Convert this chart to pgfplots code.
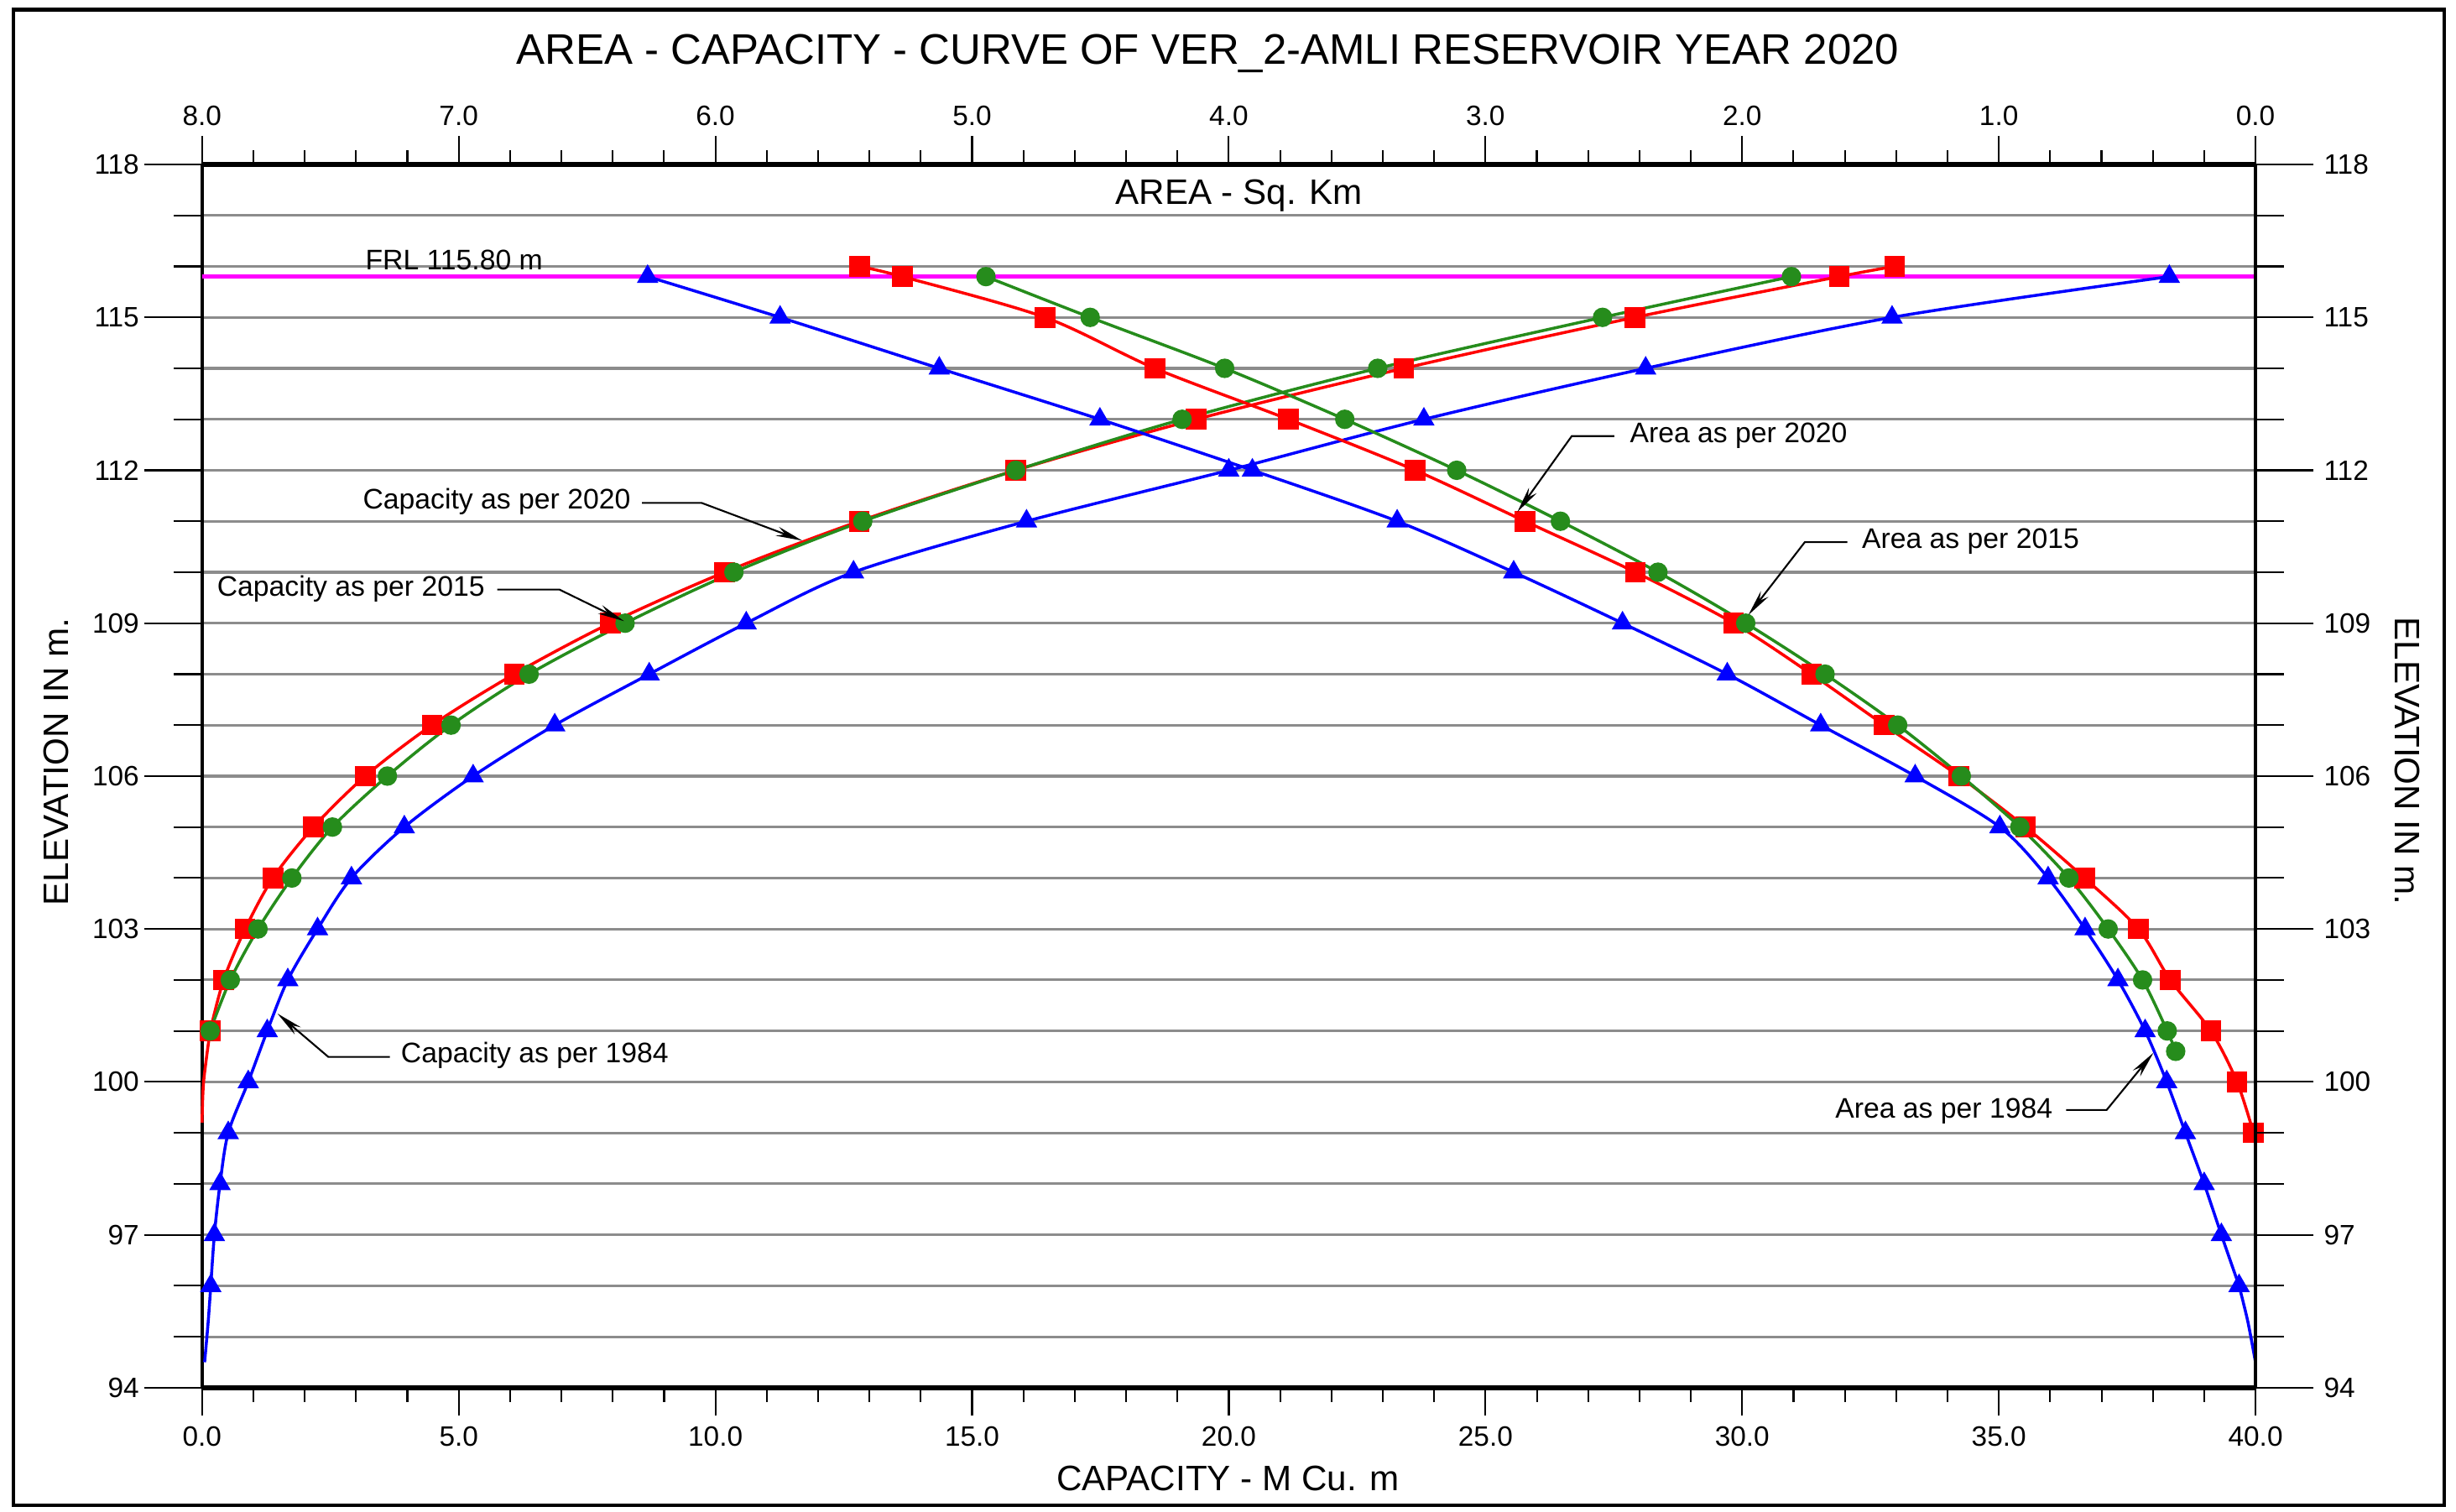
\documentclass[border=0pt]{standalone}
\usepackage{fontspec}
\setmainfont{Liberation Sans}
\usepackage{pgfplots}
\pgfplotsset{compat=1.18}
\usetikzlibrary{arrows.meta}

\definecolor{cred}{RGB}{255,0,0}
\definecolor{cgreen}{RGB}{38,140,28}
\definecolor{cblue}{RGB}{0,0,255}
\definecolor{cmag}{RGB}{255,0,255}
\definecolor{cgrid}{RGB}{140,140,140}

\newcommand\tickfont{\fontsize{9.5}{11}\selectfont}
\newcommand\annfont{\fontsize{9.6}{11}\selectfont}

\tikzset{
  leader/.style={black, line width=0.6pt, -{Stealth[length=9pt, width=3.2pt]}},
  ann/.style={font=\annfont, inner sep=0pt, anchor=center},
}
\pgfplotsset{
  base/.style={scale only axis, width=24.482cm, height=14.584cm,
    at={(0,0)}, anchor=south west, ymin=94, ymax=118, clip=false,
    /pgf/number format/assume math mode=true,
    tick style={black, line width=0.6pt}, axis line style={-},
    every tick label/.append style={font=\tickfont}},
  redp/.style={cred, line width=1pt, smooth, tension=0.5, mark=square*, mark size=3.0pt, mark options={solid, fill=cred, draw=cred}},
  greenp/.style={cgreen, line width=1pt, smooth, tension=0.5, mark=*, mark size=2.8pt, mark options={solid, fill=cgreen, draw=cgreen}},
  bluep/.style={cblue, line width=1pt, smooth, tension=0.5, mark=triangle*, mark size=3.2pt, mark options={solid, fill=cblue, draw=cblue}},
}

\begin{document}
\begin{tikzpicture}
\useasboundingbox (-2.409,-1.475) rectangle (26.872,16.545);

% grid + left elevation axis
\begin{axis}[base, xmin=0, xmax=40, axis x line=none, xtick=\empty,
  axis y line*=left, y axis line style={line width=1pt},
  ytick={94,97,...,118},
  minor ytick={95,96,98,99,101,102,104,105,107,108,110,111,113,114,116,117},
  tick align=outside, major tick length=0.691cm, minor tick length=0.336cm,
  ymajorgrids, yminorgrids,
  major grid style={cgrid, line width=0.9pt},
  minor grid style={cgrid, line width=0.9pt},
  yticklabel style={inner sep=1.5pt}]
\addplot[cmag, line width=1.3pt] coordinates {(0,115.8) (40,115.8)};
\end{axis}

% capacity (bottom axis)
\begin{axis}[base, xmin=0, xmax=40, axis y line=none, ytick=\empty,
  axis x line*=bottom, x axis line style={line width=1.6pt},
  xtick={0,5,...,40}, minor x tick num=4,
  tick align=outside, major tick length=0.336cm, minor tick length=0.168cm,
  xticklabel style={/pgf/number format/.cd, fixed, fixed zerofill, precision=1}]
% Capacity as per 1984
\addplot[cblue, line width=1pt, smooth] coordinates {(0.05,94.5) (0.12,95.3) (0.17,96)};
\addplot[bluep] coordinates {
(0.17,96) (0.24,97) (0.35,98) (0.51,99) (0.90,100) (1.27,101) (1.67,102)
(2.25,103) (2.91,104) (3.94,105) (5.28,106) (6.87,107) (8.71,108) (10.60,109)
(12.69,110) (16.06,111) (20.00,112) (23.80,113) (28.12,114) (32.92,115) (38.32,115.8)};
% Capacity as per 2020
\addplot[cred, line width=1pt, smooth] coordinates {(0,99.2) (0.03,100) (0.157,101)};
\addplot[redp] coordinates {
(0.157,101) (0.42,102) (0.84,103) (1.38,104) (2.17,105) (3.18,106) (4.48,107)
(6.08,108) (7.95,109) (10.18,110) (12.80,111) (15.85,112) (19.36,113)
(23.41,114) (27.91,115) (31.89,115.8) (32.97,116)};
% Capacity as per 2015
\addplot[greenp] coordinates {
(0.157,101) (0.55,102) (1.09,103) (1.75,104) (2.54,105) (3.61,106) (4.85,107)
(6.37,108) (8.24,109) (10.36,110) (12.87,111) (15.85,112) (19.09,113)
(22.90,114) (27.28,115) (30.96,115.8)};
\end{axis}

% area (top axis, reversed)
\begin{axis}[base, xmin=0, xmax=8, x dir=reverse, axis y line=none, ytick=\empty,
  axis x line*=top, x axis line style={line width=1.6pt},
  xtick={0,1,...,8}, minor x tick num=4,
  tick align=outside, major tick length=0.336cm, minor tick length=0.168cm,
  xticklabel style={/pgf/number format/.cd, fixed, fixed zerofill, precision=1}]
% Area as per 1984
\addplot[cblue, line width=1pt, smooth] coordinates {(0.0,94.5) (0.03,95.3) (0.064,96)};
\addplot[bluep] coordinates {
(0.064,96) (0.133,97) (0.20,98) (0.273,99) (0.346,100) (0.43,101) (0.536,102)
(0.664,103) (0.808,104) (0.996,105) (1.326,106) (1.694,107) (2.058,108)
(2.466,109) (2.89,110) (3.344,111) (3.908,112) (4.502,113) (5.128,114)
(5.748,115) (6.264,115.8)};
% Area as per 2020
\addplot[redp] coordinates {
(0.008,99) (0.072,100) (0.174,101) (0.332,102) (0.456,103) (0.666,104)
(0.896,105) (1.156,106) (1.446,107) (1.73,108) (2.033,109) (2.416,110)
(2.846,111) (3.274,112) (3.768,113) (4.288,114) (4.716,115) (5.272,115.8)
(5.438,116)};
% Area as per 2015
\addplot[greenp] coordinates {
(0.311,100.6) (0.344,101) (0.44,102) (0.574,103) (0.727,104) (0.918,105)
(1.146,106) (1.394,107) (1.677,108) (1.986,109) (2.328,110) (2.708,111)
(3.112,112) (3.548,113) (4.016,114) (4.54,115) (4.946,115.8)};
\end{axis}

% right elevation axis + annotations
\begin{axis}[base, xmin=0, xmax=40, axis x line=none, xtick=\empty,
  axis y line*=right, y axis line style={line width=1pt},
  ytick={94,97,...,118},
  minor ytick={95,96,98,99,101,102,104,105,107,108,110,111,113,114,116,117},
  tick align=outside, major tick length=0.691cm, minor tick length=0.336cm]
\node[font=\fontsize{12}{14}\selectfont, inner sep=0pt] at (axis cs:20.2,117.39) {AREA - Sq. Km};
\node[ann] at (axis cs:4.91,116.12) {FRL 115.80 m};
\node[ann] at (axis cs:5.74,111.39) {Capacity as per 2020};
\draw[leader] (axis cs:8.57,111.36) -- (axis cs:9.73,111.36) -- (axis cs:11.69,110.62);
\node[ann] at (axis cs:2.90,109.67) {Capacity as per 2015};
\draw[leader] (axis cs:5.75,109.66) -- (axis cs:6.96,109.66) -- (axis cs:8.22,109.04);
\node[ann] at (axis cs:6.48,100.52) {Capacity as per 1984};
\draw[leader] (axis cs:3.66,100.49) -- (axis cs:2.46,100.49) -- (axis cs:1.47,101.34);
\node[ann] at (axis cs:29.93,112.68) {Area as per 2020};
\draw[leader] (axis cs:27.51,112.67) -- (axis cs:26.68,112.67) -- (axis cs:25.62,111.18);
\node[ann] at (axis cs:34.45,110.61) {Area as per 2015};
\draw[leader] (axis cs:32.05,110.59) -- (axis cs:31.22,110.59) -- (axis cs:30.12,109.16);
\node[ann] at (axis cs:33.93,99.43) {Area as per 1984};
\draw[leader] (axis cs:36.31,99.45) -- (axis cs:37.1,99.45) -- (axis cs:38.01,100.57);
\end{axis}

% titles, labels, frame
\node[font=\fontsize{14.5}{17}\selectfont, inner sep=0pt] at (11.989,15.910) {AREA - CAPACITY - CURVE OF VER\_2-AMLI RESERVOIR YEAR 2020};
\node[font=\fontsize{12}{14}\selectfont, inner sep=0pt] at (12.23,-1.083) {CAPACITY - M Cu. m};
\node[font=\fontsize{12}{14}\selectfont, inner sep=0pt, rotate=90] at (-1.737,7.46) {ELEVATION IN m.};
\node[font=\fontsize{12}{14}\selectfont, inner sep=0pt, rotate=-90] at (26.293,7.47) {ELEVATION IN m.};
\draw[black, line width=1.2pt] (-2.248,-1.4006) rectangle (26.734,16.430);
\end{tikzpicture}
\end{document}
